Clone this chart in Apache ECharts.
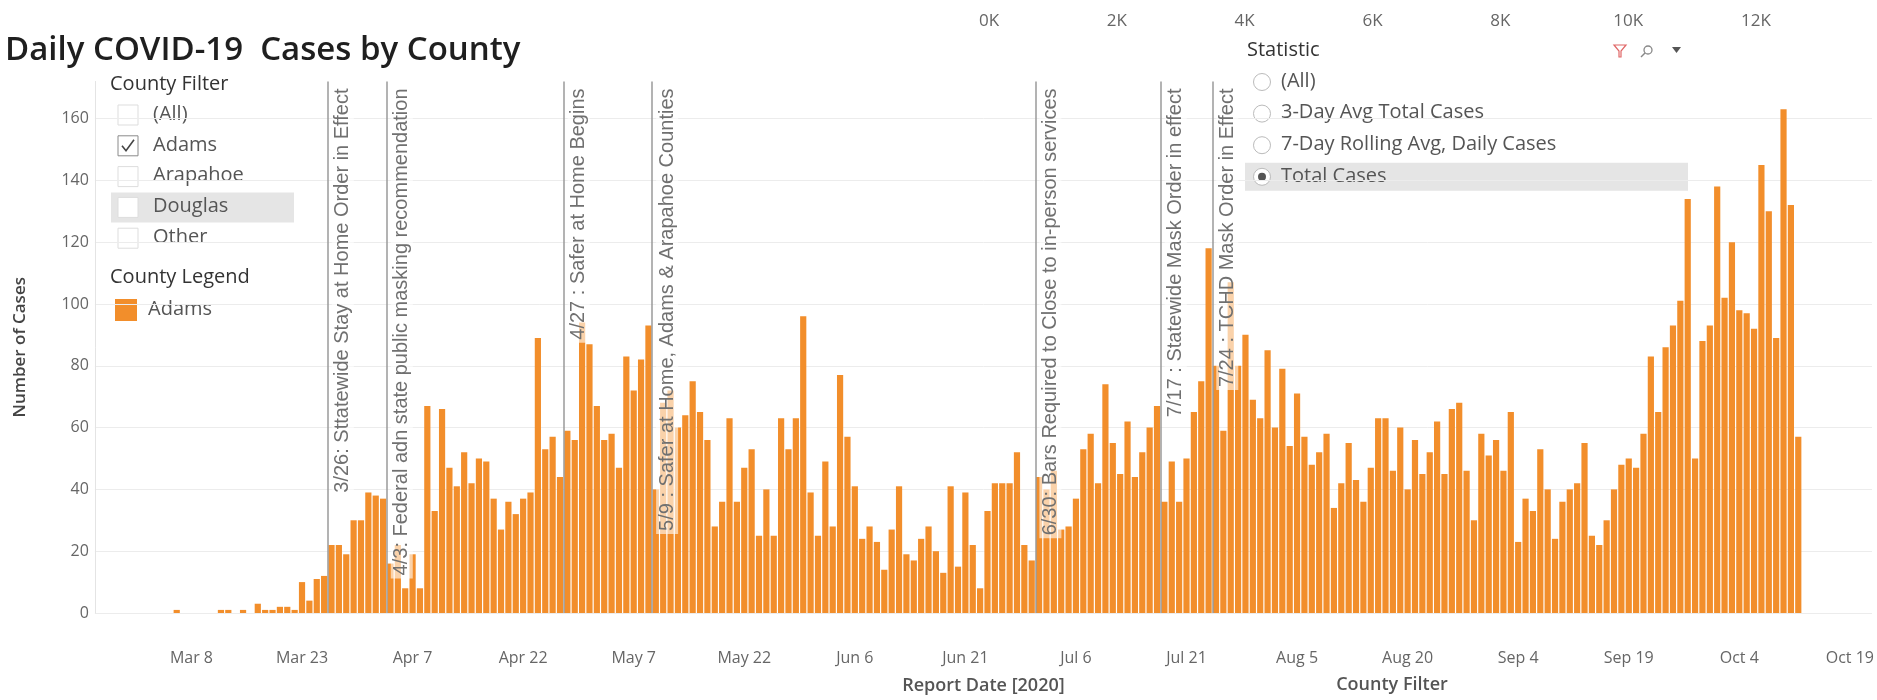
<!DOCTYPE html>
<html><head><meta charset="utf-8">
<script src="https://cdn.jsdelivr.net/npm/echarts@6/dist/echarts.min.js"></script>
<style>html,body{margin:0;padding:0;background:#fff}#c{width:1877px;height:700px}</style>
</head><body><div id="c"></div>
<script>
// ---- data ----
const startDate = [2020, 3, 1]; // first value is Mar 1, 2020
const cases = [
  // Mar
  0,0,0,0,0,1,0, 0,0,0,0,1,1,0,1,0,3,1,1,2,2,1, 10,4,11,12,22,22,19,30,30,
  // Apr
  39,38,37,16,22,8,19,8, 67,33,66,47,41,52,42,50,49,37, 27,36,32,37,39,89,53, 57,44,59,56,94,
  // May
  87,67,56,58,47,83,72,82,93,40, 68,72,60,64,75,65,56,28,36,63, 36,47,53,25,40,25,63,53,63,96,39,
  // Jun
  25,49,28,77,57,41,24,28,23,14, 27,41,19,17,24,28,20,13,41,15, 39,22,8,33,42,42,42,52,22,17,
  // Jul
  44,40,46,27,28,37,53,58,42,74, 55,45,62,44,52,60,67,36,49,36, 50,65,75,118,80,59,107,80,90,69,63,
  // Aug
  85,60,79,54,71,57,48,52,58,34,42,55,43,36,47,63,63,46,60,40,56,45,52,62,45,66,68,46,30,58,51,
  // Sep
  56,46,65,23,37,33,53,40,24,36,40,42,55,25,22,30, 40,48,50,47,58,83,65,86,93, 101,134,50,88,93,
  // Oct
  138,102,120,98,97,92,145,130,89,163,132,57
];
const tickLabels = ['Mar 8','Mar 23','Apr 7','Apr 22','May 7','May 22','Jun 6','Jun 21','Jul 6','Jul 21','Aug 5','Aug 20','Sep 4','Sep 19','Oct 4','Oct 19'];
const eventDates = ['2020-03-26','2020-04-03','2020-04-27','2020-05-09','2020-06-30','2020-07-17','2020-07-24'];
const eventLabels = [
  '3/26: Sttatewide Stay at Home Order in Effect',
  '4/3: Federal adn state public masking recommendation',
  '4/27 : Safer at Home Begins',
  '5/9 : Safer at Home, Adams & Arapahoe Counties',
  '6/30: Bars Required to Close to in-person services',
  '7/17 : Statewide Mask Order in effect',
  '7/24 : TCHD Mask Order in Effect'
];
const yTicks = [0,20,40,60,80,100,120,140,160];
const topTicks = [0,2000,4000,6000,8000,10000,12000];
const countyFilterItems = ['(All)','Adams','Arapahoe','Douglas','Other'];
const countyChecked = ['Adams'];
const countyHover = 'Douglas';
const legendItems = ['Adams'];
const statisticItems = ['(All)','3-Day Avg Total Cases','7-Day Rolling Avg, Daily Cases','Total Cases'];
const statisticSelected = 'Total Cases';

// ---- build ----
const DAY = 86400000;
const base = Date.UTC(2020, 2, 8); // Mar 8 = index 0
const first = (Date.UTC(startDate[0], startDate[1]-1, startDate[2]) - base) / DAY;
const barData = cases.map((v, i) => [first + i, v]);
const evIdx = eventDates.map(s => { const p = s.split('-').map(Number); return (Date.UTC(p[0], p[1]-1, p[2]) - base) / DAY + 0.5; });
const tickIdx = tickLabels.map((t, i) => i * 15);

const PXD = 7.374, X0 = 191.5, XMIN = -13.1, XMAX = 228;
const PXV = 3.166, Y0 = 626, YMAX = 172;
const FONT = "'Open Sans', 'Noto Sans', sans-serif";
const ORANGE = '#f28e2b';

const g = [];
g.push({type:'text', left:5, top:34, style:{text:'Daily COVID-19  Cases by County', font:"600 33px 'Open Sans', sans-serif", fill:'#1f1f1f'}});
g.push({type:'text', left:110, top:74, style:{text:'County Filter', font:"20px " + FONT, fill:'#333'}});
countyFilterItems.forEach((t, i) => {
  const cy = 115 + i * 30.8;
  if (t === countyHover) g.push({type:'rect', shape:{x:111, y:cy-15, width:183, height:30}, style:{fill:'#e5e5e5'}});
  const checked = countyChecked.indexOf(t) >= 0;
  g.push({type:'rect', shape:{x:118, y:cy-10, width:20, height:20}, style:{fill:'#fff', stroke: checked ? '#8a8a8a' : '#dddddd', lineWidth:1}});
  if (checked) g.push({type:'polyline', shape:{points:[[122,cy],[126,cy+5],[134,cy-6]]}, style:{stroke:'#444', lineWidth:1.6, fill:null}});
  g.push({type:'text', left:153, top:cy-11, style:{text:t, font:"20px " + FONT, fill:'#555'}});
});
g.push({type:'text', left:110, top:267, style:{text:'County Legend', font:"20px " + FONT, fill:'#333'}});
legendItems.forEach((t, i) => {
  const cy = 310 + i * 30;
  g.push({type:'rect', shape:{x:115, y:cy-11, width:22, height:22}, style:{fill:ORANGE}});
  g.push({type:'text', left:148, top:cy-11, style:{text:t, font:"20px " + FONT, fill:'#555'}});
});
g.push({type:'text', left:1247, top:40, style:{text:'Statistic', font:"20px " + FONT, fill:'#333'}});
statisticItems.forEach((t, i) => {
  const cy = 82 + i * 31.6;
  if (t === statisticSelected) g.push({type:'rect', shape:{x:1245, y:cy-14, width:443, height:28}, style:{fill:'#e5e5e5'}});
  g.push({type:'circle', shape:{cx:1262, cy:cy, r:8.5}, style:{fill:'#fff', stroke:'#bbb', lineWidth:1}});
  if (t === statisticSelected) g.push({type:'circle', shape:{cx:1262, cy:cy, r:4}, style:{fill:'#555'}});
  g.push({type:'text', left:1281, top:cy-11, style:{text:t, font:"20px " + FONT, fill:'#555'}});
});
// toolbar icons
g.push({type:'polygon', shape:{points:[[1614,45],[1626,45],[1621,51],[1621,57],[1619,57],[1619,51]]}, style:{fill:'none', stroke:'#e06666', lineWidth:1.2}});
g.push({type:'circle', shape:{cx:1648, cy:50, r:4}, style:{fill:'none', stroke:'#888', lineWidth:1.3}});
g.push({type:'line', shape:{x1:1645, y1:53, x2:1641, y2:57}, style:{stroke:'#888', lineWidth:1.5}});
g.push({type:'polygon', shape:{points:[[1672,47],[1681,47],[1676.5,53]]}, style:{fill:'#555'}});
g.push({type:'text', x:1392, y:685, style:{text:'County Filter', font:"600 18px " + FONT, fill:'#555', align:'center', verticalAlign:'middle'}});

const opt = {
  animation:false,
  backgroundColor:'#fff',
  textStyle:{fontFamily:FONT},
  grid:[
    {left: X0 + XMIN*PXD, width:(XMAX-XMIN)*PXD, top: Y0 - YMAX*PXV, height: YMAX*PXV},
    {left: 989, width: 767, top: 36, height: 1}
  ],
  xAxis:[
    {type:'value', gridIndex:0, min:XMIN, max:XMAX,
     name:'Report Date [2020]', nameLocation:'middle', nameGap:64,
     nameTextStyle:{color:'#555', fontSize:18, fontWeight:600, fontFamily:FONT},
     axisLine:{show:false}, axisTick:{show:false}, splitLine:{show:false},
     axisLabel:{color:'#666', fontSize:16, margin:37, fontFamily:FONT, customValues: tickIdx,
       formatter: v => { const k = Math.round(v/15); return (Math.abs(v - k*15) < 1e-6 && k >= 0 && k < tickLabels.length) ? tickLabels[k] : ''; }}},
    {type:'value', gridIndex:1, position:'top', min:topTicks[0], max:topTicks[topTicks.length-1], interval:2000,
     axisLine:{show:false}, axisTick:{show:false}, splitLine:{show:false},
     axisLabel:{color:'#666', fontSize:17, margin:6, fontFamily:FONT, formatter: v => (v/1000) + 'K'}}
  ],
  yAxis:[
    {type:'value', gridIndex:0, min:0, max:YMAX, interval:20,
     name:'Number of Cases', nameLocation:'middle', nameGap:66,
     nameTextStyle:{color:'#444', fontSize:17, fontWeight:600, fontFamily:FONT},
     axisLine:{show:true, onZero:false, lineStyle:{color:'#e4e4e4'}}, axisTick:{show:false},
     splitLine:{show:true, lineStyle:{color:['#ececec','#ececec','#ececec','#ececec','#ececec','#ececec','#ececec','#ececec','#ececec','rgba(0,0,0,0)'], width:1}},
     axisLabel:{color:'#666', fontSize:16, margin:6, fontFamily:FONT, formatter: v => yTicks.indexOf(v) >= 0 ? String(v) : ''}},
    {type:'value', gridIndex:1, show:false, min:0, max:1}
  ],
  series:[
    {type:'bar', xAxisIndex:0, yAxisIndex:0, data:barData, barWidth:6.2,
     itemStyle:{color:ORANGE},
     markLine:{silent:true, symbol:['none','none'], animation:false,
       lineStyle:{color:'#9a9a9a', width:1.5, type:'solid'},
       label:{show:true, position:'insideEndBottom', color:'#707070', fontSize:20, fontFamily:"'Liberation Sans', Arial, sans-serif",
         backgroundColor:'rgba(255,255,255,0.6)', padding:[1,3], distance:4},
       data: evIdx.map((x, i) => ({xAxis:x, label:{formatter: eventLabels[i]}}))
     }},
    {type:'scatter', xAxisIndex:1, yAxisIndex:1, data:[], silent:true}
  ],
  graphic: g
};
const chart = echarts.init(document.getElementById('c'));
chart.setOption(opt);
</script>
</body></html>
